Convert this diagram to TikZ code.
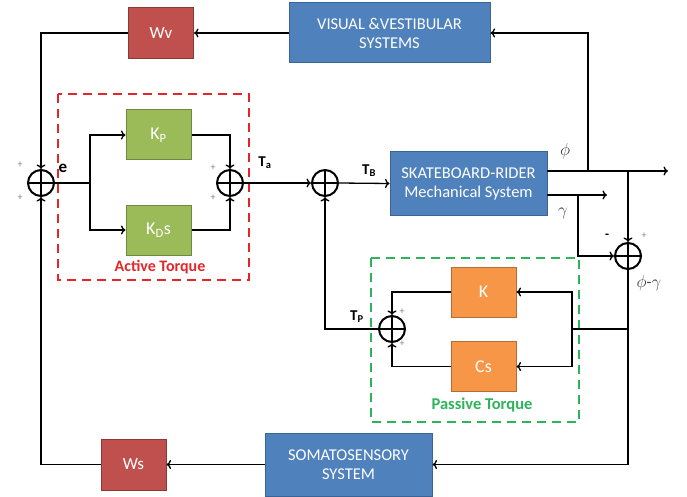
\documentclass[tikz,border=0pt]{standalone}
\usepackage{fontspec}
\setmainfont{Carlito}
\usetikzlibrary{arrows.meta}
\definecolor{sysblue}{HTML}{4F81BD}
\definecolor{sysblueline}{HTML}{3A6496}
\definecolor{wred}{HTML}{C0504D}
\definecolor{wredline}{HTML}{8C3836}
\definecolor{kgreen}{HTML}{9BBB59}
\definecolor{kgreenline}{HTML}{71893F}
\definecolor{korange}{HTML}{F79646}
\definecolor{korangeline}{HTML}{B66D31}
\definecolor{actred}{HTML}{E3262A}
\definecolor{passgreen}{HTML}{2DB35A}
\begin{document}
\begin{tikzpicture}[x=1pt, y=-1pt,
	sys/.style={draw=sysblueline, fill=sysblue, line width=1pt, text=white, align=center, inner sep=0pt, font=\fontsize{16.5}{19}\selectfont},
	weight/.style={draw=wredline, fill=wred, line width=1pt, text=white, inner sep=0pt, minimum width=65pt, minimum height=51pt, font=\fontsize{17}{19}\selectfont},
	gain/.style={draw=kgreenline, fill=kgreen, line width=1pt, text=white, inner sep=0pt, minimum width=65pt, minimum height=50pt, font=\fontsize{18}{19}\selectfont},
	passive/.style={draw=korangeline, fill=korange, line width=1pt, text=white, inner sep=0pt, minimum width=65pt, minimum height=50pt, font=\fontsize{18}{19}\selectfont},
	sum/.style={circle, draw, line width=2pt, minimum size=26pt, inner sep=0pt,
		path picture={\draw[line width=2pt] (path picture bounding box.north) -- (path picture bounding box.south)
			(path picture bounding box.west) -- (path picture bounding box.east);}},
	sig/.style={line width=1.3pt, -{To[length=4.5pt, width=9pt]}},
	wire/.style={line width=1.3pt},
	sign/.style={text=gray, font=\fontsize{10}{10}\selectfont},
	tlabel/.style={font=\bfseries\fontsize{15}{15}\selectfont},
	greek/.style={text=black!75, font=\fontsize{16}{16}\selectfont}]
	\useasboundingbox (0,0) rectangle (687,497);
	% blocks
	\node[sys, minimum width=201pt, minimum height=60pt] (visual) at (389.5,33) {VISUAL \&VESTIBULAR\\SYSTEMS};
	\node[sys, minimum width=157pt, minimum height=63pt] (skate) at (468.5,183.5) {SKATEBOARD-RIDER\\Mechanical System};
	\node[sys, minimum width=167pt, minimum height=63pt] (soma) at (348.5,464.5) {SOMATOSENSORY\\SYSTEM};
	\node[weight] (wv) at (161,33) {Wv};
	\node[weight] (ws) at (133.5,464.5) {Ws};
	\node[gain] (kp) at (158.5,135) {K\textsubscript{P}};
	\node[gain] (kd) at (158.5,230) {K\textsubscript{D}s};
	\node[passive] (k) at (483.5,292) {K};
	\node[passive] (cs) at (483.5,366.5) {Cs};
	% summing points
	\node[sum] (s1) at (41,183) {};
	\node[sum] (s2) at (230,183) {};
	\node[sum] (s3) at (325,183) {};
	\node[sum] (s4) at (628,256) {};
	\node[sum] (s5) at (392,329) {};
	% dashed groups
	\draw[actred, line width=2.2pt, dash pattern=on 9pt off 6pt] (58,94) rectangle (249,280);
	\draw[passgreen, line width=2.2pt, dash pattern=on 9pt off 6pt] (371,258) rectangle (579,422);
	\node[text=actred, font=\bfseries\fontsize{16}{16}\selectfont] (act) at (160,267) {Active Torque};
	\node[text=passgreen, font=\bfseries\fontsize{16.5}{16}\selectfont] (pas) at (482,405) {Passive Torque};
	% branch points
	\coordinate (br1) at (90,183);
	\coordinate (phiS) at (547,171);
	\coordinate (phiE) at (668,171);
	\coordinate (phiup) at (588,171);
	\coordinate (phidn) at (628,171);
	\coordinate (gamS) at (547,195);
	\coordinate (gamE) at (607,195);
	\coordinate (gamdn) at (578,195);
	\coordinate (br2) at (628,329);
	\coordinate (br3) at (572,329);
	% connectors
	\draw[sig] (phiup) |- (visual.east);
	\draw[sig] (visual.west) -- (wv.east);
	\draw[sig] (wv.west) -| (s1.north);
	\draw[sig] (s4.south) |- (soma.east);
	\draw[sig] (soma.west) -- (ws.east);
	\draw[sig] (ws.west) -| (s1.south);
	\draw[wire] (s1.east) -- (br1);
	\draw[sig] (br1) |- (kp.west);
	\draw[sig] (br1) |- (kd.west);
	\draw[sig] (kp.east) -| (s2.north);
	\draw[sig] (kd.east) -| (s2.south);
	\draw[sig] (s2.east) -- (s3.west);
	\draw[sig] (s3.east) -- (skate.west);
	\draw[sig] (phiS) -- (phiE);
	\draw[sig] (gamS) -- (gamE);
	\draw[sig] (phidn) -- (s4.north);
	\draw[sig] (gamdn) |- (s4.west);
	\draw[wire] (br2) -- (br3);
	\draw[sig] (br3) |- (k.east);
	\draw[sig] (br3) |- (cs.east);
	\draw[sig] (k.west) -| (s5.north);
	\draw[sig] (cs.west) -| (s5.south);
	\draw[sig] (s5.west) -| (s3.south);
	% signal labels
	\node[font=\bfseries\fontsize{17}{17}\selectfont] (e) at (63,168) {e};
	\node[tlabel] (ta) at (265,163) {T\textsubscript{a}};
	\node[tlabel] (tb) at (369,171) {T\textsubscript{B}};
	\node[tlabel] (tp) at (357,317) {T\textsubscript{P}};
	\node[greek] (phi) at (565,151) {$\phi$};
	\node[greek] (gam) at (563,213) {$\gamma$};
	\node[greek] (diff) at (649,283) {$\phi$-$\gamma$};
	% signs
	\node[font=\bfseries\fontsize{13}{13}\selectfont] (minus) at (607,236) {-};
	\foreach \x/\y in {20/165, 20/198, 213/168, 213/198, 402/312, 402/344, 644/236}{
		\node[sign] at (\x,\y) {+};
	}
\end{tikzpicture}
\end{document}
